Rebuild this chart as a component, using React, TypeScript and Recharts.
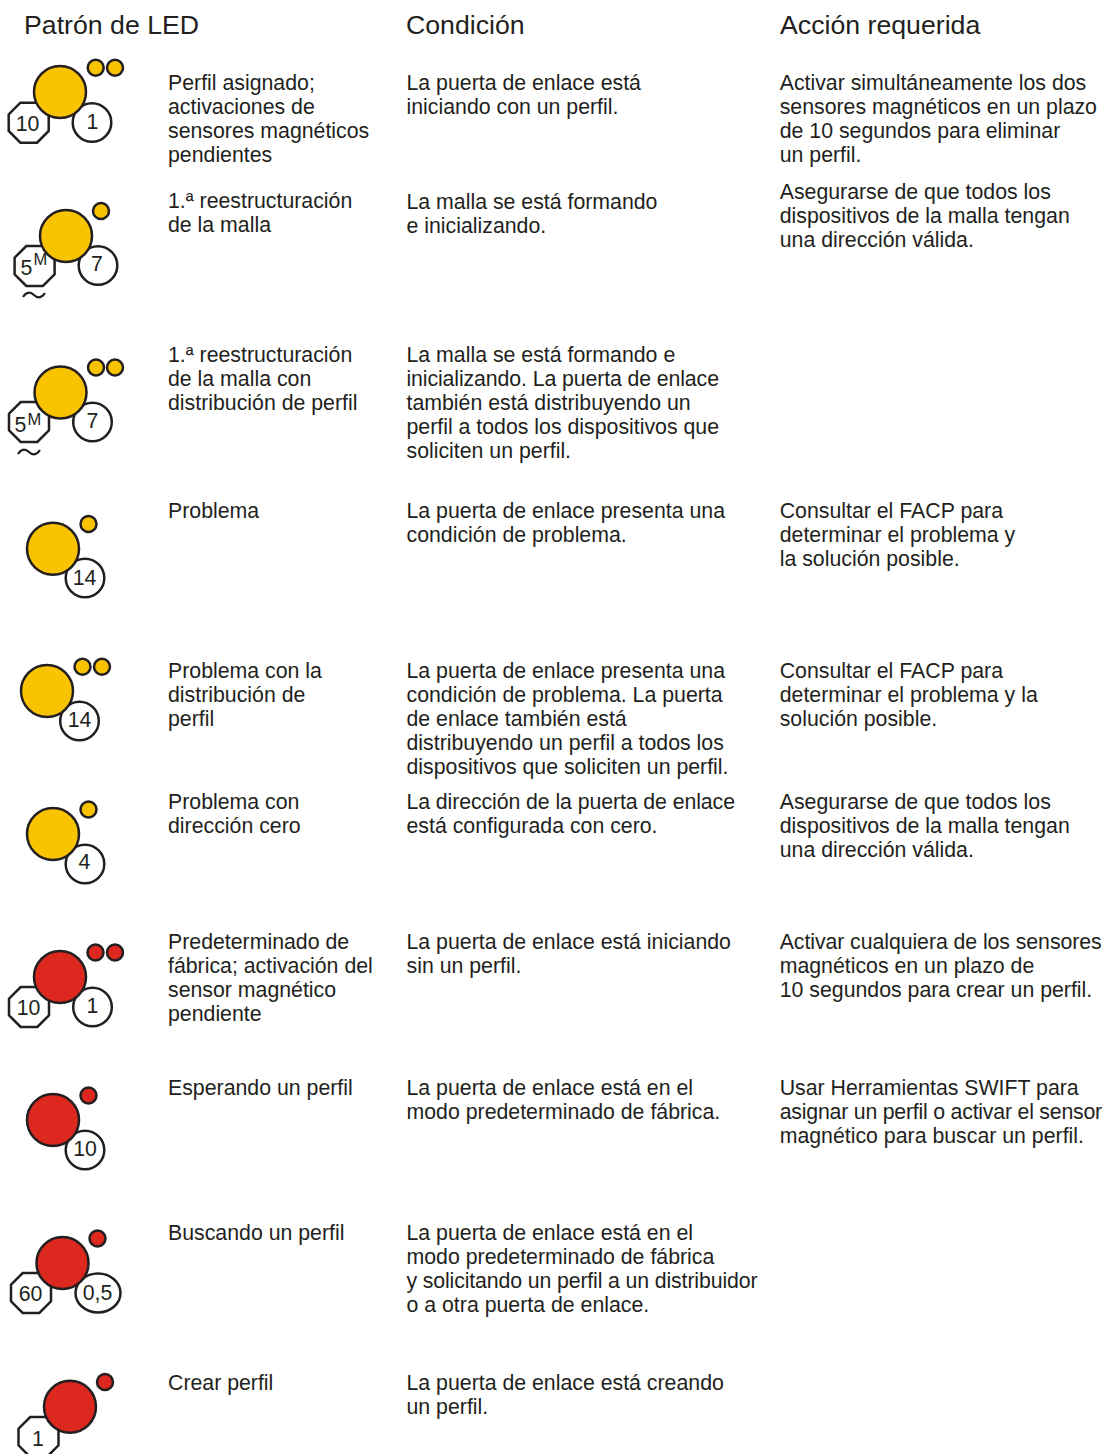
import React from "react"
import { ScatterChart, Scatter, XAxis, YAxis } from "recharts"

const W = 1103
const H = 1454
const FONT = '"Liberation Sans", Arial, sans-serif'
const INK = "#231f20"

const AMBER = "#f9c300"
const RED = "#dc281e"

// [x, y] of each LED / timer mark
const amberLeds = [[60, 92], [66, 236], [60.5, 392.5], [53, 548.7], [47, 691], [53, 834]]
const redLeds = [[60, 977], [53, 1120], [62.5, 1263], [70, 1406.7]]
const amberDots = [[95.7, 67.7], [115, 67.7], [101, 211], [96, 367.5], [115, 367.5], [88.5, 524], [82.5, 666.7], [102, 666.7], [88.5, 809.5]]
const redDots = [[95.5, 952.5], [115, 952.5], [88.5, 1095.5], [97.5, 1238.5], [105, 1382]]
const octagons = [[28.7, 122.7], [34.6, 266], [29, 422], [29, 1007], [31, 1293], [38.5, 1437]]
const timers = [[92, 122.5], [98, 265.5], [92.5, 422], [85, 578], [79.5, 721], [85, 864], [92.5, 1007], [85, 1150]]
const ovals = [[98, 1293]]
const tildes = [[34, 295], [29, 452]]

// number inside a mark: [x, center y, text]
const markLabels: [number, number, string][] = [
  [27.5, 123, "10"], [92.5, 121, "1"],
  [26.5, 267.5, "5"], [97, 263, "7"],
  [20.5, 424, "5"], [92.5, 420, "7"],
  [84.5, 577, "14"], [79.5, 719, "14"], [84.5, 861, "4"],
  [28.5, 1007, "10"], [92.5, 1005, "1"],
  [85, 1148, "10"], [30.5, 1293, "60"], [97.5, 1292, "0,5"], [38, 1438, "1"],
]
const superLabels: [number, number, string][] = [[33.5, 259.5, "M"], [27.5, 419, "M"]]

const headers: [number, number, string][] = [
  [24, 34, "Patrón de LED"],
  [406, 34, "Condición"],
  [780, 34, "Acción requerida"],
]

const COL_PATTERN = 168
const COL_CONDITION = 406.5
const COL_ACTION = 779.7

// [column x, first baseline y, lines]
const blocks: [number, number, string[]][] = [
  [COL_PATTERN, 90, ["Perfil asignado;", "activaciones de", "sensores magnéticos", "pendientes"]],
  [COL_CONDITION, 90, ["La puerta de enlace está", "iniciando con un perfil."]],
  [COL_ACTION, 90, ["Activar simultáneamente los dos", "sensores magnéticos en un plazo", "de 10 segundos para eliminar", "un perfil."]],
  [COL_PATTERN, 208, ["1.ª reestructuración", "de la malla"]],
  [COL_CONDITION, 209, ["La malla se está formando", "e inicializando."]],
  [COL_ACTION, 199, ["Asegurarse de que todos los", "dispositivos de la malla tengan", "una dirección válida."]],
  [COL_PATTERN, 362, ["1.ª reestructuración", "de la malla con", "distribución de perfil"]],
  [COL_CONDITION, 362, ["La malla se está formando e", "inicializando. La puerta de enlace", "también está distribuyendo un", "perfil a todos los dispositivos que", "soliciten un perfil."]],
  [COL_PATTERN, 518, ["Problema"]],
  [COL_CONDITION, 518, ["La puerta de enlace presenta una", "condición de problema."]],
  [COL_ACTION, 518, ["Consultar el FACP para", "determinar el problema y", "la solución posible."]],
  [COL_PATTERN, 678, ["Problema con la", "distribución de", "perfil"]],
  [COL_CONDITION, 678, ["La puerta de enlace presenta una", "condición de problema. La puerta", "de enlace también está", "distribuyendo un perfil a todos los", "dispositivos que soliciten un perfil."]],
  [COL_ACTION, 678, ["Consultar el FACP para", "determinar el problema y la", "solución posible."]],
  [COL_PATTERN, 809, ["Problema con", "dirección cero"]],
  [COL_CONDITION, 809, ["La dirección de la puerta de enlace", "está configurada con cero."]],
  [COL_ACTION, 809, ["Asegurarse de que todos los", "dispositivos de la malla tengan", "una dirección válida."]],
  [COL_PATTERN, 949, ["Predeterminado de", "fábrica; activación del", "sensor magnético", "pendiente"]],
  [COL_CONDITION, 949, ["La puerta de enlace está iniciando", "sin un perfil."]],
  [COL_ACTION, 949, ["Activar cualquiera de los sensores", "magnéticos en un plazo de", "10 segundos para crear un perfil."]],
  [COL_PATTERN, 1095, ["Esperando un perfil"]],
  [COL_CONDITION, 1095, ["La puerta de enlace está en el", "modo predeterminado de fábrica."]],
  [COL_ACTION, 1095, ["Usar Herramientas SWIFT para", "asignar un perfil o activar el sensor", "magnético para buscar un perfil."]],
  [COL_PATTERN, 1240, ["Buscando un perfil"]],
  [COL_CONDITION, 1240, ["La puerta de enlace está en el", "modo predeterminado de fábrica", "y solicitando un perfil a un distribuidor", "o a otra puerta de enlace."]],
  [COL_PATTERN, 1390, ["Crear perfil"]],
  [COL_CONDITION, 1390, ["La puerta de enlace está creando", "un perfil."]],
]

// lines set tighter in the original than the font's natural width
const tightLines: Record<string, number> = {
  "asignar un perfil o activar el sensor": 322.5,
  "y solicitando un perfil a un distribuidor": 351,
  "La dirección de la puerta de enlace": 328.5,
  "inicializando. La puerta de enlace": 312.5,
  "Activar cualquiera de los sensores": 322,
}

const LINE_HEIGHT = 24

const toPoints = (list: number[][]) => list.map(([x, y]) => ({ x, y }))
const toLabels = (list: [number, number, string][]) => list.map(([x, y, text]) => ({ x, y, text }))
const bodyLines = blocks.flatMap(([x, y, lines]) =>
  lines.map((text, i) => ({ x, y: y + i * LINE_HEIGHT, text }))
)

const STROKE = 2.5

const led = (r: number, fill: string) => ({ cx, cy }: any) => (
  <circle cx={cx} cy={cy} r={r} fill={fill} stroke={INK} strokeWidth={STROKE} />
)

const Octagon = ({ cx, cy }: any) => {
  const a = 20
  const b = 8.3
  const pts = [[-b, -a], [b, -a], [a, -b], [a, b], [b, a], [-b, a], [-a, b], [-a, -b]]
  return (
    <polygon
      points={pts.map(([px, py]) => `${cx + px},${cy + py}`).join(" ")}
      fill="#fff"
      stroke={INK}
      strokeWidth={STROKE}
    />
  )
}

const Oval = ({ cx, cy }: any) => (
  <ellipse cx={cx} cy={cy} rx={22.5} ry={19.5} fill="#fff" stroke={INK} strokeWidth={STROKE} />
)

const Tilde = ({ cx, cy }: any) => (
  <path
    d={`M${cx - 11},${cy + 2} C${cx - 7},${cy - 4} ${cx - 3},${cy - 3} ${cx},${cy} C${cx + 3},${cy + 3} ${cx + 7},${cy + 4} ${cx + 11},${cy - 2}`}
    fill="none"
    stroke={INK}
    strokeWidth={2.2}
  />
)

const textShape = (size: number, anchor: "start" | "middle", dy = 0) => ({ cx, cy, payload }: any) => (
  <text
    x={cx}
    y={cy + dy}
    fontSize={size}
    fontFamily={FONT}
    fill={INK}
    textAnchor={anchor}
    textLength={tightLines[payload.text]}
  >
    {payload.text}
  </text>
)

export default function App() {
  return (
    <div style={{ position: "absolute", left: 0, top: 0, width: W, height: H, background: "#fff" }}>
      <ScatterChart width={W} height={H} margin={{ top: 0, right: 0, bottom: 0, left: 0 }}>
        <XAxis type="number" dataKey="x" domain={[0, W]} hide />
        <YAxis type="number" dataKey="y" domain={[0, H]} reversed hide />
        <Scatter data={toPoints(octagons)} shape={Octagon} isAnimationActive={false} />
        <Scatter data={toPoints(timers)} shape={led(19.3, "#fff")} isAnimationActive={false} />
        <Scatter data={toPoints(ovals)} shape={Oval} isAnimationActive={false} />
        <Scatter data={toPoints(tildes)} shape={Tilde} isAnimationActive={false} />
        <Scatter data={toPoints(amberLeds)} shape={led(26, AMBER)} isAnimationActive={false} />
        <Scatter data={toPoints(redLeds)} shape={led(26, RED)} isAnimationActive={false} />
        <Scatter data={toPoints(amberDots)} shape={led(8, AMBER)} isAnimationActive={false} />
        <Scatter data={toPoints(redDots)} shape={led(8, RED)} isAnimationActive={false} />
        <Scatter data={toLabels(markLabels)} shape={textShape(21.3, "middle", 7.5)} isAnimationActive={false} />
        <Scatter data={toLabels(superLabels)} shape={textShape(16.5, "start", 5.5)} isAnimationActive={false} />
        <Scatter data={toLabels(headers)} shape={textShape(26.7, "start")} isAnimationActive={false} />
        <Scatter data={bodyLines} shape={textShape(21.3, "start")} isAnimationActive={false} />
      </ScatterChart>
    </div>
  )
}
